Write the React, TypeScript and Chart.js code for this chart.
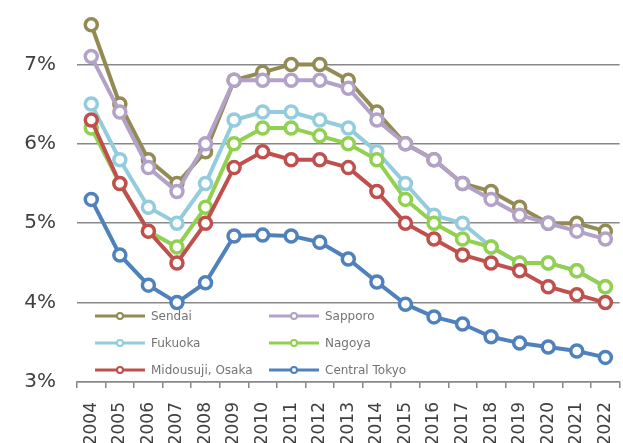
import React, { useEffect, useRef } from "react";
import { Chart, registerables } from "chart.js";

Chart.register(...registerables);

const years = [
  "2004", "2005", "2006", "2007", "2008", "2009", "2010", "2011", "2012", "2013",
  "2014", "2015", "2016", "2017", "2018", "2019", "2020", "2021", "2022",
];

const sendai = [7.5, 6.5, 5.8, 5.5, 5.9, 6.8, 6.9, 7.0, 7.0, 6.8, 6.4, 6.0, 5.8, 5.5, 5.4, 5.2, 5.0, 5.0, 4.9];
const sapporo = [7.1, 6.4, 5.7, 5.4, 6.0, 6.8, 6.8, 6.8, 6.8, 6.7, 6.3, 6.0, 5.8, 5.5, 5.3, 5.1, 5.0, 4.9, 4.8];
const fukuoka = [6.5, 5.8, 5.2, 5.0, 5.5, 6.3, 6.4, 6.4, 6.3, 6.2, 5.9, 5.5, 5.1, 5.0, 4.7, 4.5, 4.5, 4.4, 4.2];
const nagoya = [6.2, 5.5, 4.9, 4.7, 5.2, 6.0, 6.2, 6.2, 6.1, 6.0, 5.8, 5.3, 5.0, 4.8, 4.7, 4.5, 4.5, 4.4, 4.2];
const midousuji = [6.3, 5.5, 4.9, 4.5, 5.0, 5.7, 5.9, 5.8, 5.8, 5.7, 5.4, 5.0, 4.8, 4.6, 4.5, 4.4, 4.2, 4.1, 4.0];
const centralTokyo = [5.3, 4.6, 4.22, 4.0, 4.25, 4.84, 4.85, 4.84, 4.76, 4.55, 4.26, 3.98, 3.82, 3.73, 3.57, 3.49, 3.44, 3.39, 3.31];

const seriesNames = ["Sendai", "Sapporo", "Fukuoka", "Nagoya", "Midousuji, Osaka", "Central Tokyo"];
const seriesColors = ["#948A54", "#B3A2C7", "#93CDDD", "#92D050", "#C0504D", "#4F81BD"];
const seriesValues = [sendai, sapporo, fukuoka, nagoya, midousuji, centralTokyo];

const yTicks = [3, 4, 5, 6, 7, 8];

const FONT = "'DejaVu Sans', Verdana, sans-serif";
const GRID = "#888888";

// Two-column legend drawn inside the lower-left corner of the plot area
const insideLegend = {
  id: "insideLegend",
  afterDatasetsDraw(chart: any) {
    const { ctx, chartArea } = chart;
    const colX = [chartArea.left + 18, chartArea.left + 192];
    const rowY = [chartArea.bottom - 66, chartArea.bottom - 39, chartArea.bottom - 12];
    ctx.save();
    chart.data.datasets.forEach((ds: any, i: number) => {
      const x = colX[i % 2];
      const y = rowY[Math.floor(i / 2)];
      ctx.strokeStyle = ds.borderColor;
      ctx.lineWidth = 3;
      ctx.beginPath();
      ctx.moveTo(x, y);
      ctx.lineTo(x + 50, y);
      ctx.stroke();
      ctx.beginPath();
      ctx.arc(x + 25, y, 3, 0, Math.PI * 2);
      ctx.fillStyle = "#ffffff";
      ctx.fill();
      ctx.lineWidth = 2;
      ctx.stroke();
      ctx.fillStyle = "#737373";
      ctx.font = `12px ${FONT}`;
      ctx.textAlign = "left";
      ctx.textBaseline = "middle";
      ctx.fillText(ds.label, x + 56, y + 1);
    });
    ctx.restore();
  },
};

export default function App() {
  const canvasRef = useRef<HTMLCanvasElement | null>(null);

  useEffect(() => {
    if (!canvasRef.current) return;
    const chart = new Chart(canvasRef.current, {
      type: "line",
      data: {
        labels: years,
        datasets: seriesNames.map((name, i) => ({
          label: name,
          data: seriesValues[i],
          borderColor: seriesColors[i],
          backgroundColor: "#ffffff",
          pointBackgroundColor: "#ffffff",
          pointBorderColor: seriesColors[i],
          borderWidth: 4,
          pointRadius: 6,
          pointBorderWidth: 3.5,
          pointHoverRadius: 6,
          tension: 0,
          order: seriesNames.length - i,
        })),
      },
      options: {
        responsive: false,
        animation: false,
        layout: { padding: { top: 15, right: 5, left: 0, bottom: 0 } },
        plugins: {
          legend: { display: false },
          tooltip: { enabled: false },
          title: { display: false },
        },
        scales: {
          x: {
            offset: true,
            grid: {
              offset: true,
              drawOnChartArea: false,
              drawTicks: true,
              tickLength: 6,
              color: GRID,
              lineWidth: 1.5,
            },
            border: { display: true, color: GRID, width: 1.5 },
            ticks: {
              minRotation: 90,
              maxRotation: 90,
              autoSkip: false,
              padding: 14,
              color: "#404040",
              font: { family: FONT, size: 17 },
            },
            afterFit(scale: any) {
              scale.height = 61;
            },
          },
          y: {
            min: 3,
            max: 8,
            afterBuildTicks(scale: any) {
              scale.ticks = yTicks.map((v) => ({ value: v }));
            },
            grid: {
              drawTicks: false,
              color: GRID,
              lineWidth: 1.5,
            },
            border: { display: false },
            ticks: {
              padding: 21,
              color: "#404040",
              font: { family: FONT, size: 20 },
              callback: (v: any) => `${v}%`,
            },
            afterFit(scale: any) {
              scale.width = 77;
            },
          },
        },
      },
      plugins: [insideLegend],
    });
    return () => chart.destroy();
  }, []);

  return (
    <div
      style={{
        position: "fixed",
        left: 0,
        top: 0,
        width: 623,
        height: 443,
        overflow: "hidden",
        background: "#ffffff",
      }}
    >
      <canvas
        ref={canvasRef}
        width={640}
        height={491}
        style={{ display: "block", position: "absolute", left: 0, top: -48 }}
      />
    </div>
  );
}
